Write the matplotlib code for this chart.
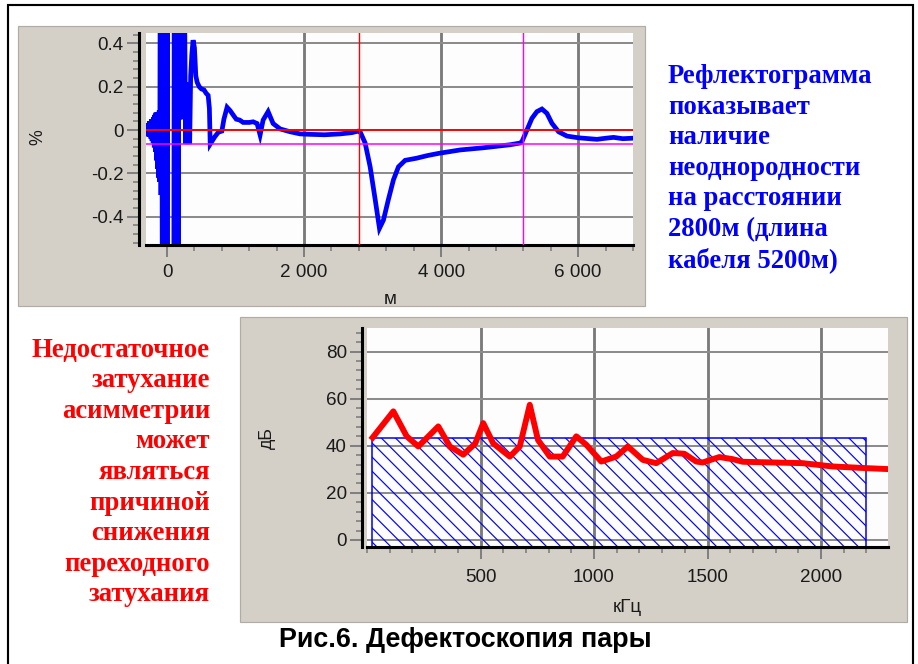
import matplotlib
matplotlib.use("Agg")
import matplotlib.pyplot as plt
from matplotlib.patches import Rectangle
from matplotlib.ticker import MultipleLocator, FixedLocator, FixedFormatter

# reflectogram (top): distance, m  /  reflection, %
dist_m = [-300, -290, -282, -274, -266, -258, -250, -242, -234, -226, -218, -210,
          -202, -194, -186, -178, -170, -162, -154, -146, -138, -130, -122, -114,
          -106, -98, -88, -78, -68, -58, -48, -38, -28, -18, -8, 2, 10, 14,
          98, 106, 114, 122, 130, 138, 146, 154, 162, 172, 186, 200, 214, 228,
          242, 256, 270, 285, 300, 315, 330, 345, 362, 380, 400, 420, 440, 470,
          500, 540, 570, 600, 618, 630, 660, 700, 750, 800, 830, 876, 920, 964,
          1010, 1060, 1110, 1200, 1256, 1314, 1358, 1402, 1475, 1548, 1650,
          1796, 1942, 2088, 2300, 2526, 2700, 2789, 2818, 2891, 2964, 3037,
          3100, 3158, 3231, 3304, 3377, 3475, 3645, 3800, 3961, 4278, 4618,
          5008, 5154, 5179, 5252, 5325, 5398, 5471, 5544, 5617, 5714, 5836,
          6005, 6150, 6274, 6400, 6516, 6650, 6785]
refl = [0.0, 0.03, -0.02, 0.03, -0.03, 0.04, -0.03, 0.04, -0.04, 0.05, -0.05, 0.05,
        -0.06, 0.06, -0.08, 0.07, -0.1, 0.08, -0.14, 0.08, -0.18, 0.08, -0.22, 0.09,
        -0.24, 1.0, -0.3, 1.0, -1.0, 1.0, -1.0, 1.0, -1.0, 1.0, -1.0, 1.0, -1.0, -1.0,
        -1.0, 1.0, -1.0, 1.0, -1.0, 1.0, -1.0, 1.0, -1.0, 1.0, 0.05, 1.0, 0.05, 1.0,
        0.06, 0.6, -0.065, 0.22, -0.065, 0.22, -0.065, 0.25, 0.35, 0.415, 0.38, 0.25, 0.22, 0.2,
        0.19, 0.185, 0.17, 0.16, 0.1, -0.065, -0.05, -0.03, -0.01, -0.005, 0.05, 0.105, 0.09, 0.07,
        0.05, 0.046, 0.035, 0.035, 0.038, 0.03, -0.023, 0.046, 0.085, 0.03, 0.005,
        -0.008, -0.018, -0.02, -0.022, -0.018, -0.012, -0.005, -0.008, -0.06, -0.17, -0.32,
        -0.454, -0.416, -0.32, -0.23, -0.17, -0.14, -0.13, -0.118, -0.108, -0.092, -0.082,
        -0.068, -0.06, -0.054, 0.0, 0.054, 0.085, 0.097, 0.077, 0.031, -0.008, -0.028,
        -0.036, -0.04, -0.043, -0.038, -0.034, -0.04, -0.038]
fault_m = 2800
cable_end_m = 5200
end_level = -0.065

# crosstalk attenuation (bottom): frequency, kHz / dB
freq_khz = [25, 116, 175, 226, 314, 365, 424, 477, 512, 556, 629, 673, 717, 753,
            805, 862, 922, 966, 1032, 1098, 1149, 1215, 1274, 1347, 1398, 1450,
            1479, 1552, 1611, 1655, 1919, 2051, 2197, 2292]
atten_db = [43.5, 54.6, 44, 39.7, 48.2, 39.7, 36.2, 41, 49.6, 41, 35.4, 39.7, 57.4, 42.5,
            35.4, 35.4, 44, 40.4, 33.3, 35.4, 39.7, 34, 32.6, 36.9, 36.6, 33.3,
            32.9, 35.2, 34.3, 33.2, 32.6, 31.2, 30.5, 30.1]
norm_f0, norm_f1, norm_db = 20, 2200, 43.5

blue_text = ["Рефлектограмма", "показывает", "наличие", "неоднородности",
             "на расстоянии", "2800м (длина", "кабеля 5200м)"]
red_text = ["Недостаточное", "затухание", "асимметрии", "может", "являться",
            "причиной", "снижения", "переходного", "затухания"]
caption = "Рис.6. Дефектоскопия пары"

W, H, DPI = 918, 664, 85
fig = plt.figure(figsize=(W / DPI, H / DPI), dpi=DPI)
fig.patch.set_facecolor("white")


def fbox(x0, y0, x1, y1):
    # pixel box (top-left origin) -> figure rect
    return [x0 / W, 1 - y1 / H, (x1 - x0) / W, (y1 - y0) / H]


def fpt(x, y):
    return x / W, 1 - y / H


panel = "#d4d0c8"
for box in [(18, 26, 645, 306), (240, 317, 907, 622)]:
    l, b, w, h = fbox(*box)
    fig.patches.append(Rectangle((l, b), w, h, transform=fig.transFigure,
                                 facecolor=panel, edgecolor="#b0aca4", lw=1.0, zorder=-2))
fig.patches.append(Rectangle((8 / W, -0.02), 905 / W, 1 - 5 / H + 0.02,
                             transform=fig.transFigure, fill=False,
                             edgecolor="black", lw=1.8, zorder=-2))

tick_font = "Liberation Sans"
grey = "#808080"


def style(ax, out):
    ax.set_zorder(2)
    ax.set_facecolor("#fdfdfd")
    for s in ["top", "right"]:
        ax.spines[s].set_visible(False)
    for s in ["left", "bottom"]:
        ax.spines[s].set_linewidth(2.6)
        ax.spines[s].set_color("black")
    ax.spines["left"].set_position(("outward", out))
    ax.tick_params(which="major", length=10, width=1.7, color=grey,
                   labelsize=16, labelcolor="#1a1a1a")
    ax.tick_params(which="minor", length=5, width=1.4, color=grey)
    ax.tick_params(axis="x", pad=6)
    ax.tick_params(axis="y", pad=3)
    for lab in ax.get_xticklabels() + ax.get_yticklabels():
        lab.set_family(tick_font)
    ax.grid(axis="x", which="major", color="#7a7a7a", lw=2.4, zorder=0)
    ax.grid(axis="y", which="major", color="#8c8c8c", lw=1.7, zorder=0)
    ax.set_axisbelow(True)


# ---- top: reflectogram
ax1 = fig.add_axes(fbox(146, 33, 633, 245))
ax1.plot(dist_m, refl, color="#0000ff", lw=4, solid_joinstyle="miter", zorder=2)
ax1.axhline(0, color="#ff0000", lw=1.6, zorder=3)
ax1.axhline(end_level, color="#ff00ff", lw=1.3, zorder=3)
ax1.axvline(fault_m, color="#ff0000", lw=1.2, zorder=3)
ax1.axvline(cable_end_m, color="#ff00ff", lw=1.2, zorder=3)
ax1.set_xlim(-307, 6800)
ax1.set_ylim(-0.531, 0.448)
ax1.xaxis.set_major_locator(FixedLocator([0, 2000, 4000, 6000]))
ax1.xaxis.set_major_formatter(FixedFormatter(["0", "2 000", "4 000", "6 000"]))
ax1.xaxis.set_minor_locator(MultipleLocator(400))
ax1.yaxis.set_major_locator(FixedLocator([-0.4, -0.2, 0, 0.2, 0.4]))
ax1.yaxis.set_major_formatter(FixedFormatter(["-0.4", "-0.2", "0", "0.2", "0.4"]))
ax1.yaxis.set_minor_locator(MultipleLocator(0.04))
style(ax1, 6)
fig.text(*fpt(38, 137), "%", rotation=90, ha="center", va="center",
         fontsize=15, family=tick_font, color="#1a1a1a")
fig.text(*fpt(390, 299), "м", ha="center", va="center",
         fontsize=16, family=tick_font, color="#1a1a1a")

# ---- bottom: crosstalk attenuation
ax2 = fig.add_axes(fbox(367, 328, 888, 547))
ax2.set_xlim(0, 2295)
ax2.set_ylim(-3, 90)
ax2.add_patch(Rectangle((norm_f0, -3), norm_f1 - norm_f0, norm_db + 3,
                        facecolor="none", edgecolor="#0000ff", hatch="\\\\",
                        lw=1.3, zorder=2))
ax2.plot(freq_khz, atten_db, color="#ff0000", lw=5, zorder=3)
ax2.xaxis.set_major_locator(FixedLocator([500, 1000, 1500, 2000]))
ax2.xaxis.set_minor_locator(MultipleLocator(100))
ax2.yaxis.set_major_locator(FixedLocator([0, 20, 40, 60, 80]))
ax2.yaxis.set_minor_locator(MultipleLocator(4))
style(ax2, 4)
ax2.tick_params(axis="x", pad=9)
fig.text(*fpt(267, 438), "дБ", rotation=90, ha="center", va="center",
         fontsize=15, family=tick_font, color="#1a1a1a")
fig.text(*fpt(627, 607), "кГц", ha="center", va="center",
         fontsize=16, family=tick_font, color="#1a1a1a")

# ---- annotations
for i, line in enumerate(blue_text):
    fig.text(*fpt(668, 76.7 + i * 30.5), line, ha="left", va="center",
             fontsize=22.6, fontweight="bold", family="Liberation Serif", color="#0000ff")
for i, line in enumerate(red_text):
    fig.text(*fpt(210, 350 + i * 30.6), line, ha="right", va="center",
             fontsize=22.6, fontweight="bold", family="Liberation Serif", color="#ff0000")
fig.text(*fpt(465, 640), caption, ha="center", va="center",
         fontsize=22.8, fontweight="bold", family="Liberation Sans", color="black")

fig.savefig("out.png", dpi=DPI)
